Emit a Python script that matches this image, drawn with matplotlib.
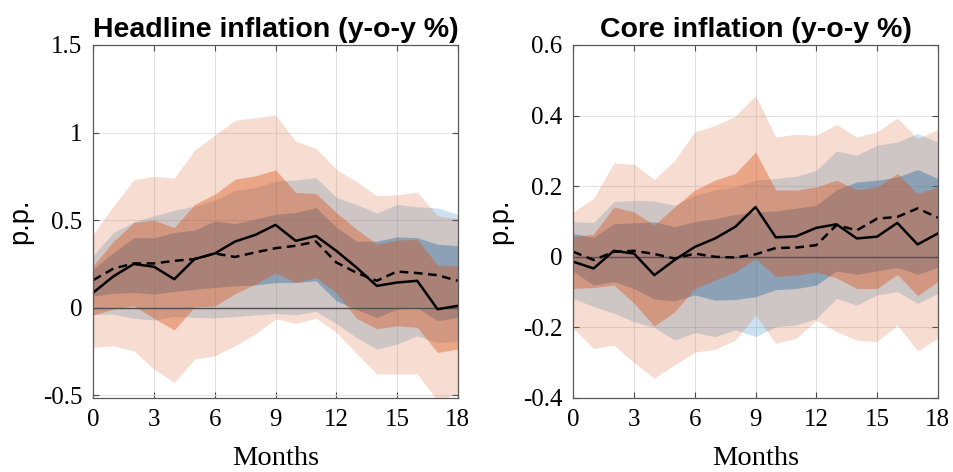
import numpy as np
import matplotlib
matplotlib.use("Agg")
import matplotlib.pyplot as plt
from matplotlib import font_manager

months = list(range(19))

# Headline inflation responses (p.p.)
head_base = [0.087, 0.18, 0.25, 0.234, 0.163, 0.278, 0.31, 0.378, 0.416, 0.473,
             0.382, 0.41, 0.325, 0.23, 0.125, 0.144, 0.154, -0.008, 0.011]
head_alt = [0.158, 0.224, 0.253, 0.253, 0.268, 0.278, 0.31, 0.29, 0.316, 0.34,
            0.354, 0.378, 0.259, 0.2, 0.154, 0.207, 0.198, 0.186, 0.154]
head_b90_lo = [-0.04, -0.036, -0.06, -0.07, -0.05, -0.055, -0.058, -0.05, -0.041, -0.032,
               -0.04, -0.021, -0.09, -0.17, -0.236, -0.207, -0.16, -0.2, -0.19]
head_b90_hi = [0.30, 0.43, 0.49, 0.525, 0.557, 0.58, 0.614, 0.67, 0.686, 0.724,
               0.73, 0.743, 0.63, 0.59, 0.54, 0.59, 0.576, 0.57, 0.534]
head_b68_lo = [0.068, 0.082, 0.087, 0.078, 0.093, 0.105, 0.116, 0.125, 0.13, 0.144,
               0.144, 0.154, 0.04, -0.01, -0.055, -0.008, 0.0, -0.074, -0.055]
head_b68_hi = [0.22, 0.316, 0.40, 0.40, 0.43, 0.443, 0.496, 0.48, 0.506, 0.534,
               0.544, 0.572, 0.46, 0.38, 0.38, 0.405, 0.40, 0.363, 0.354]
head_o90_lo = [-0.226, -0.217, -0.245, -0.35, -0.426, -0.293, -0.274, -0.217, -0.15, -0.063,
               -0.089, -0.06, -0.14, -0.26, -0.378, -0.378, -0.378, -0.53, -0.49]
head_o90_hi = [0.42, 0.58, 0.73, 0.75, 0.74, 0.90, 0.985, 1.07, 1.085, 1.10,
               0.95, 0.91, 0.79, 0.72, 0.64, 0.645, 0.66, 0.525, 0.51]
head_o68_lo = [-0.04, -0.008, 0.011, -0.06, -0.127, 0.005, 0.01, 0.08, 0.135, 0.2,
               0.144, 0.173, 0.087, -0.06, -0.12, -0.103, -0.112, -0.255, -0.236]
head_o68_hi = [0.24, 0.38, 0.487, 0.50, 0.458, 0.59, 0.648, 0.734, 0.753, 0.787,
               0.658, 0.652, 0.544, 0.449, 0.363, 0.386, 0.39, 0.243, 0.24]

# Core inflation responses (p.p.)
core_base = [-0.014, -0.033, 0.017, 0.009, -0.052, -0.009, 0.028, 0.052, 0.085, 0.141,
             0.055, 0.058, 0.082, 0.092, 0.052, 0.057, 0.096, 0.035, 0.066]
core_alt = [0.014, -0.009, 0.014, 0.017, 0.008, -0.005, 0.009, 0.0, -0.002, 0.007,
            0.025, 0.026, 0.033, 0.09, 0.075, 0.108, 0.113, 0.137, 0.111]
core_b90_lo = [-0.118, -0.141, -0.16, -0.184, -0.2, -0.236, -0.215, -0.226, -0.207, -0.226,
               -0.198, -0.193, -0.175, -0.118, -0.137, -0.108, -0.099, -0.132, -0.104]
core_b90_hi = [0.100, 0.097, 0.156, 0.160, 0.158, 0.146, 0.174, 0.190, 0.198, 0.217,
               0.222, 0.228, 0.245, 0.300, 0.288, 0.316, 0.325, 0.349, 0.325]
core_b68_lo = [-0.042, -0.08, -0.07, -0.09, -0.12, -0.125, -0.108, -0.123, -0.121, -0.113,
               -0.093, -0.09, -0.08, -0.04, -0.05, -0.04, -0.03, -0.05, -0.03]
core_b68_hi = [0.066, 0.055, 0.094, 0.096, 0.099, 0.085, 0.10, 0.108, 0.12, 0.127,
               0.13, 0.138, 0.146, 0.190, 0.212, 0.217, 0.226, 0.247, 0.222]
core_o90_lo = [-0.203, -0.26, -0.25, -0.30, -0.344, -0.306, -0.27, -0.262, -0.236, -0.165,
               -0.245, -0.231, -0.18, -0.212, -0.236, -0.24, -0.193, -0.266, -0.231]
core_o90_hi = [0.127, 0.165, 0.266, 0.262, 0.219, 0.273, 0.354, 0.372, 0.398, 0.457,
               0.339, 0.347, 0.344, 0.375, 0.339, 0.354, 0.393, 0.335, 0.36]
core_o68_lo = [-0.09, -0.087, -0.08, -0.132, -0.196, -0.156, -0.09, -0.066, -0.043, -0.005,
               -0.056, -0.052, -0.043, -0.06, -0.09, -0.09, -0.05, -0.11, -0.07]
core_o68_hi = [0.057, 0.064, 0.141, 0.127, 0.090, 0.141, 0.189, 0.217, 0.236, 0.297,
               0.189, 0.189, 0.198, 0.217, 0.190, 0.198, 0.236, 0.179, 0.198]

titles = ["Headline inflation (y-o-y %)", "Core inflation (y-o-y %)"]
x_ticks = [0, 3, 6, 9, 12, 15, 18]
head_yticks = [-0.5, 0, 0.5, 1, 1.5]
head_yticklabels = ["-0.5", "0", "0.5", "1", "1.5"]
core_yticks = [-0.4, -0.2, 0, 0.2, 0.4, 0.6]
core_yticklabels = ["-0.4", "-0.2", "0", "0.2", "0.4", "0.6"]

BLUE = (0.0, 0.447, 0.741)
ORANGE = (0.85, 0.325, 0.098)

installed = {f.name for f in font_manager.fontManager.ttflist}
title_font = "Liberation Sans Narrow" if "Liberation Sans Narrow" in installed else "Liberation Sans"
title_size = 23 if title_font == "Liberation Sans Narrow" else 20.5
serif_font = "Liberation Serif"
sans_font = "Liberation Sans"

fig = plt.figure(figsize=(9.54, 4.72), dpi=100)
fig.patch.set_facecolor("white")

panels = [
    dict(pos=[0.0978, 0.1568, 0.382, 0.7479], ylim=(-0.515, 1.5),
         yticks=head_yticks, yticklabels=head_yticklabels,
         base=head_base, alt=head_alt,
         b90=(head_b90_lo, head_b90_hi), b68=(head_b68_lo, head_b68_hi),
         o90=(head_o90_lo, head_o90_hi), o68=(head_o68_lo, head_o68_hi)),
    dict(pos=[0.601, 0.1568, 0.382, 0.7479], ylim=(-0.4, 0.6),
         yticks=core_yticks, yticklabels=core_yticklabels,
         base=core_base, alt=core_alt,
         b90=(core_b90_lo, core_b90_hi), b68=(core_b68_lo, core_b68_hi),
         o90=(core_o90_lo, core_o90_hi), o68=(core_o68_lo, core_o68_hi)),
]

for p, title in zip(panels, titles):
    ax = fig.add_axes(p["pos"])
    ax.set_xlim(0, 18)
    ax.set_ylim(*p["ylim"])

    ax.fill_between(months, *p["b90"], color=BLUE, alpha=0.2, lw=0, zorder=2)
    ax.fill_between(months, *p["b68"], color=BLUE, alpha=0.4, lw=0, zorder=2)
    ax.fill_between(months, *p["o90"], color=ORANGE, alpha=0.2, lw=0, zorder=2)
    ax.fill_between(months, *p["o68"], color=ORANGE, alpha=0.4, lw=0, zorder=2)

    ax.axhline(0, color="#505050", lw=1.0, zorder=3)
    ax.plot(months, p["base"], color="black", lw=1.8, zorder=4)
    ax.plot(months, p["alt"], color="black", lw=1.8, ls=(0, (3.5, 2.2)), zorder=4)

    ax.set_xticks(x_ticks)
    ax.set_xticklabels([str(v) for v in x_ticks], fontfamily=serif_font, fontsize=18)
    ax.set_yticks(p["yticks"])
    ax.set_yticklabels(p["yticklabels"], fontfamily=serif_font, fontsize=18)
    ax.tick_params(direction="in", length=4, width=0.8, color="#4a4a4a",
                   top=True, right=True)
    ax.tick_params(axis="x", pad=8)
    ax.tick_params(axis="y", pad=8)
    ax.grid(True, color="#e3e3e3", lw=0.8, zorder=0)
    ax.set_axisbelow(True)
    for s in ax.spines.values():
        s.set_color("#5a5a5a")
        s.set_linewidth(0.9)
        s.set_zorder(5)

    ax.set_xlabel("Months", fontfamily=serif_font, fontsize=20.5, labelpad=11)
    ax.set_ylabel("p.p.", fontfamily=sans_font, fontsize=19.5, labelpad=7)
    ax.set_title(title, fontfamily=title_font, fontweight="bold",
                 fontsize=title_size, pad=6)

fig.savefig("out.png", dpi=100, facecolor="white")
